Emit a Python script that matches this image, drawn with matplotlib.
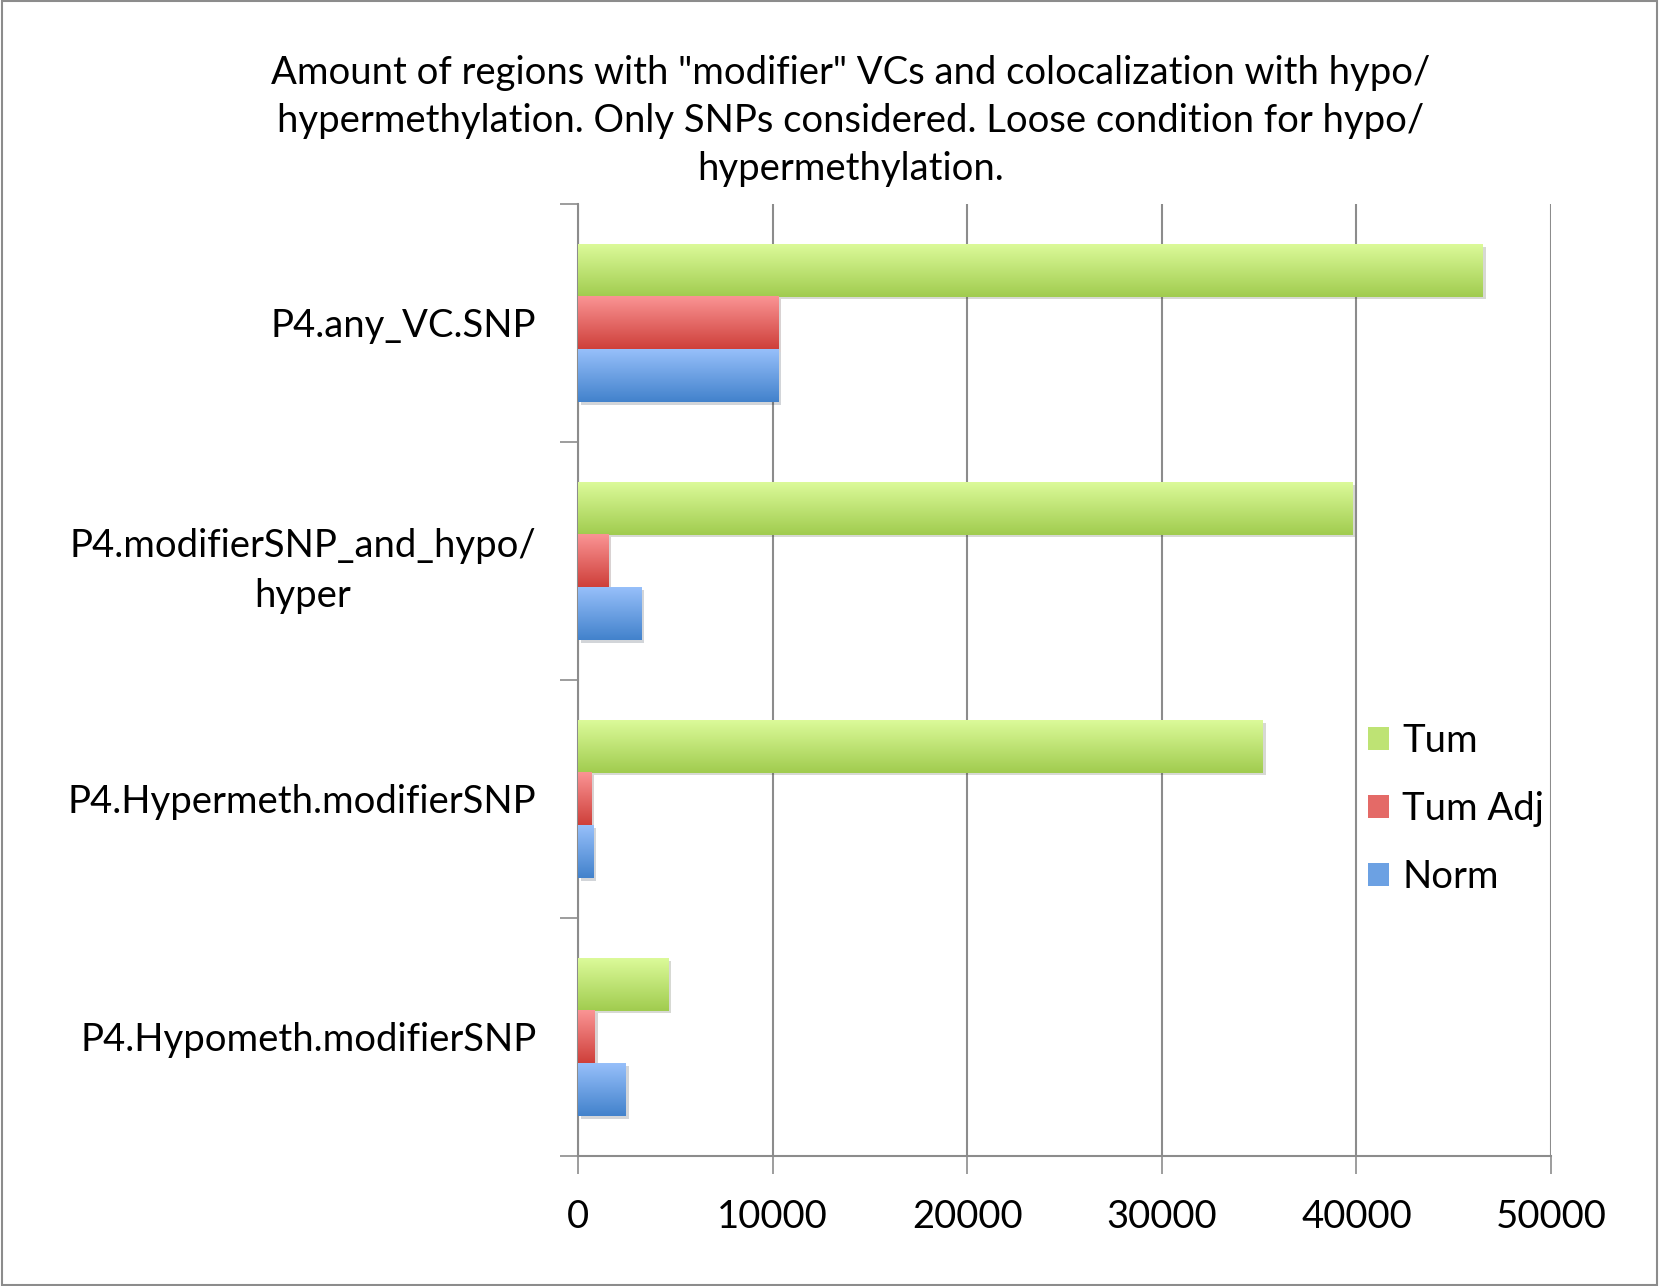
import numpy as np
import matplotlib
matplotlib.use("Agg")
import matplotlib.pyplot as plt
from matplotlib.patches import Rectangle, Patch
from matplotlib import patheffects as pe

categories = ["P4.any_VC.SNP", "P4.modifierSNP_and_hypo/\nhyper",
              "P4.Hypermeth.modifierSNP", "P4.Hypometh.modifierSNP"]
series = ["Tum", "Tum Adj", "Norm"]
tum = [46500, 39800, 35200, 4650]
tum_adj = [10300, 1560, 680, 870]
norm = [10300, 3270, 800, 2460]
xticks = [0, 10000, 20000, 30000, 40000, 50000]

title = ('Amount of regions with "modifier" VCs and colocalization with hypo/\n'
         'hypermethylation. Only SNPs considered. Loose condition for hypo/\n'
         'hypermethylation.')

# top / bottom colour of the gradient for each series
grads = {
    "Tum": ((0.86, 0.98, 0.60), (0.63, 0.80, 0.31)),
    "Tum Adj": ((0.98, 0.58, 0.58), (0.81, 0.25, 0.23)),
    "Norm": ((0.59, 0.75, 0.98), (0.26, 0.51, 0.80)),
}

plt.rcParams['font.family'] = ['Lato', 'DejaVu Sans']
FS = 27.5

W, H = 1659, 1286
fig = plt.figure(figsize=(W / 100, H / 100), dpi=100)
ax = fig.add_axes([578 / W, 1 - 1156 / H, (1551 - 578) / W, (1156 - 204) / H])

y = np.arange(len(categories))
h = 0.222
data = [tum, tum_adj, norm]
for i, (name, vals) in enumerate(zip(series, data)):
    top, bot = grads[name]
    mid = tuple((a + b) / 2 for a, b in zip(top, bot))
    bars = ax.barh(y + (i - 1) * h, vals, height=h, color=mid, zorder=3,
                   path_effects=[pe.SimplePatchShadow(offset=(2, -2), alpha=0.2),
                                 pe.Normal()])
    g = np.linspace(0, 1, 64)[:, None, None]
    img = np.array(top)[None, None, :] * (1 - g) + np.array(bot)[None, None, :] * g
    for b in bars:
        x0, y0, bw, bh = b.get_x(), b.get_y(), b.get_width(), b.get_height()
        ax.imshow(img, extent=(x0, x0 + bw, y0 + bh, y0), origin='upper',
                  aspect='auto', interpolation='bilinear', zorder=4)

ax.set_xlim(0, 50000)
ax.set_ylim(len(categories) - 0.5, -0.5)

for s in ['top', 'right']:
    ax.spines[s].set_visible(False)
for s in ['left', 'bottom']:
    ax.spines[s].set_color('#8c8c8c')
    ax.spines[s].set_linewidth(1.5)

ax.set_xticks(xticks)
ax.set_xticklabels([str(v) for v in xticks], fontsize=FS)
ax.tick_params(axis='x', length=13, width=1.2, color='#8c8c8c', pad=18)
ax.grid(axis='x', color='#8c8c8c', linewidth=1.5, zorder=0)

ax.set_yticks(y)
ax.set_yticklabels(categories, fontsize=FS, multialignment='center', linespacing=1.45)
ax.tick_params(axis='y', length=0, pad=30)
ax.set_yticks(np.arange(len(categories) + 1) - 0.5, minor=True)
ax.tick_params(axis='y', which='minor', length=13, width=1.2, color='#8c8c8c')

handles = [Patch(facecolor=tuple((a + b) / 2 for a, b in zip(*grads[n])), label=n)
           for n in series]
fig.legend(handles=handles, loc='center left', bbox_to_anchor=(1368 / W, 1 - 809 / H),
           frameon=False, fontsize=FS, handlelength=0.55, handleheight=0.55,
           handletextpad=0.35, labelspacing=0.85, borderpad=0, borderaxespad=0)

fig.text(851 / W, 1 - 121 / H, title, ha='center', va='center', fontsize=FS,
         multialignment='center', linespacing=1.42)

fig.add_artist(Rectangle((0.001, 0.001), 0.998, 0.998, transform=fig.transFigure,
                         fill=False, edgecolor='#8c8c8c', linewidth=1.5))

fig.savefig("out.png", dpi=100)
